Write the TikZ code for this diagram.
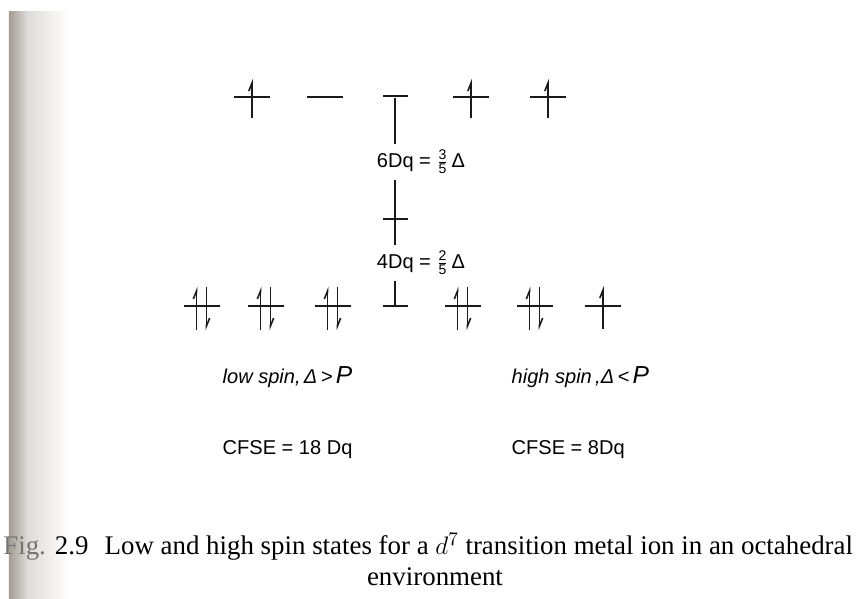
\documentclass[tikz,border=0pt]{standalone}
\usepackage{amsmath}
\usepackage{fontspec}
\setmainfont{Liberation Serif}
\setsansfont{Liberation Sans}
\usetikzlibrary{arrows.meta,positioning}
\definecolor{ink}{HTML}{1A1A1A}
\definecolor{scanedge}{HTML}{A29C92}

\tikzset{
  level/.style={fill=ink,inner sep=0pt,minimum width=0.72cm,minimum height=1.5pt},
  shortlevel/.style={level,minimum width=0.5cm},
  spin/.style={line width=0.9pt,draw=ink},
  spinup/.style={spin,-{Straight Barb[left,length=4.5pt,width=3.6pt]}},
  spindown/.style={spin,-{Straight Barb[left,length=4.5pt,width=3.6pt]}},
  labeltext/.style={font=\sffamily\fontsize{11.4}{13}\selectfont},
  slanttext/.style={font=\sffamily\itshape\fontsize{11.4}{13}\selectfont},
  captext/.style={inner sep=0pt,font=\rmfamily\fontsize{15.3}{18}\selectfont}
}

\begin{document}
\begin{tikzpicture}[labeltext,>=Latex]
  \useasboundingbox (0,0) rectangle (17.14,11.98);

  % dark edge of the scanned page
  \shade[left color=scanedge,right color=scanedge!35!white]
    (0.18,0) rectangle (0.55,11.74);
  \shade[left color=scanedge!35!white,right color=white]
    (0.55,0) rectangle (1.4,11.74);

  % e_g levels
  \node[level] (lse1) at (5.04,10.04) {};
  \node[level] (lse2) at (6.50,10.04) {};
  \node[shortlevel] (bartop) at (7.90,10.06) {};
  \node[level] (hse1) at (9.42,10.04) {};
  \node[level] (hse2) at (10.96,10.04) {};

  % barycentre and t_2g levels
  \node[shortlevel] (barmid) at (7.90,7.60) {};
  \node[level] (lst1) at (4.04,5.86) {};
  \node[level] (lst2) at (5.32,5.86) {};
  \node[level] (lst3) at (6.66,5.86) {};
  \node[shortlevel] (barbot) at (7.90,5.86) {};
  \node[level] (hst1) at (9.26,5.86) {};
  \node[level] (hst2) at (10.70,5.86) {};
  \node[level] (hst3) at (12.06,5.86) {};

  % electrons
  \foreach \o in {lse1,hse1,hse2}{
    \draw[spinup] ([yshift=-0.42cm]\o.center) -- ++(0,0.78);
  }
  \foreach \o in {lst1,lst2,lst3,hst1,hst2}{
    \draw[spinup] ([xshift=-0.11cm,yshift=-0.48cm]\o.center) -- ++(0,0.86);
    \draw[spindown] ([xshift=0.09cm,yshift=0.38cm]\o.center) -- ++(0,-0.86);
  }
  \draw[spinup] ([yshift=-0.46cm]hst3.center) -- ++(0,0.86);

  % splitting
  \node (gapsix) at (8.42,8.74) {6Dq = $\frac{\text{3}}{\text{5}}\,$Δ};
  \node (gapfour) at (8.42,6.72) {4Dq = $\frac{\text{2}}{\text{5}}\,$Δ};
  \draw[spin] (bartop) -- (bartop |- gapsix.north);
  \draw[spin] (bartop |- gapsix.south) -- (barmid.center)
    -- (barmid |- gapfour.north);
  \draw[spin] (barmid |- gapfour.south) -- (barbot.center);

  \node[anchor=west,slanttext] (lowspin) at (4.33,4.44)
    {low spin,\,Δ\,>\,{\fontsize{14}{14}\selectfont P}};
  \node[anchor=west,slanttext] (highspin) at (10.11,4.44)
    {high spin\,,Δ\,<\,{\fontsize{14}{14}\selectfont P}};
  \node[anchor=west] (lowcfse) at (4.33,2.98) {CFSE = 18 Dq};
  \node[anchor=west] (highcfse) at (10.11,2.98) {CFSE = 8Dq};

  % caption
  \node[anchor=base west,captext] (figline) at (0.06,0.88)
    {{\color{black!55}Fig.} 2.9\hspace{0.6em}Low and high spin states for a
     $d^7$ transition metal ion in an octahedral};
  \node[anchor=base,captext] (envline) at (8.70,0.26) {environment};
\end{tikzpicture}
\end{document}
